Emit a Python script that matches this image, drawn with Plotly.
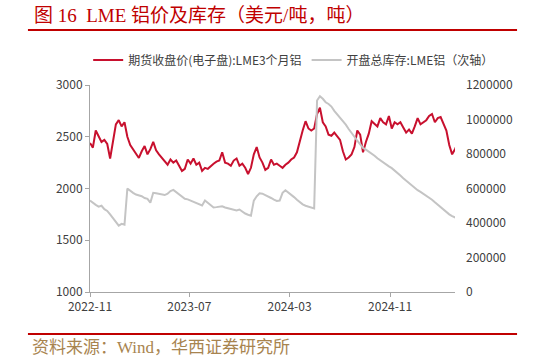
import pandas as pd
import plotly.graph_objects as go

# weekly observation dates
dates = pd.date_range("2022-11-01", periods=129, freq="7D")

# LME 3-month aluminium close (USD/t), left axis
price = [
    2440, 2395, 2560, 2500, 2450, 2470, 2430, 2290, 2440, 2620,
    2660, 2600, 2640, 2500, 2420, 2380, 2340, 2295, 2360, 2410,
    2330, 2380, 2450, 2370, 2330, 2300, 2260, 2230, 2280, 2250,
    2270, 2220, 2170, 2190, 2280, 2240, 2290, 2230, 2250, 2170,
    2200, 2190, 2220, 2240, 2260, 2270, 2350, 2250, 2240, 2220,
    2270, 2290, 2220, 2240, 2200, 2140, 2200, 2330, 2400, 2300,
    2250, 2180, 2200, 2280, 2230, 2240, 2220, 2200, 2230, 2250,
    2280, 2300, 2350, 2460, 2560, 2650, 2580, 2560, 2580, 2720,
    2780, 2640, 2600, 2520, 2510, 2540, 2500, 2470, 2360, 2280,
    2300, 2330, 2400, 2560, 2520, 2350, 2450, 2530, 2650, 2620,
    2600, 2680, 2640, 2620, 2700, 2580, 2640, 2620, 2640, 2590,
    2540, 2570, 2530, 2600, 2680, 2620, 2640, 2660, 2700, 2720,
    2640, 2680, 2690, 2620, 2560, 2420, 2330, 2380, 2440,
]

# LME aluminium opening total stocks (thousand t), right axis
stock_k = [
    530, 515, 505, 495, 500, 480, 470, 450, 430, 410,
    385, 395, 390, 600, 585, 575, 565, 560, 555, 545,
    540, 518, 575, 572, 568, 565, 562, 570, 585, 592,
    580, 565, 555, 540, 537, 530, 522, 515, 510, 502,
    530, 515, 500, 490, 492, 495, 497, 490, 485, 480,
    475, 473, 478, 465, 455, 448, 442, 530, 555, 572,
    570, 562, 555, 545, 535, 528, 530, 575, 590, 578,
    565, 550, 535, 520, 508, 500, 495, 490, 485, 1110,
    1135, 1120, 1100, 1090, 1075, 1050, 1030, 1010, 995, 970,
    945, 925, 900, 877, 855, 835, 825, 815, 805, 790,
    775, 762, 750, 738, 728, 718, 705, 690, 675, 660,
    645, 630, 615, 600, 590, 580, 570, 560, 548, 535,
    520, 505, 490, 475, 462, 450, 440, 432, 425,
]
stock = [v * 1000 for v in stock_k]

x_tick_vals = ["2022-11-01", "2023-07-01", "2024-03-01", "2024-11-01"]
x_tick_text = ["2022-11", "2023-07", "2024-03", "2024-11"]

name_price = "期货收盘价(电子盘):LME3个月铝"
name_stock = "开盘总库存:LME铝（次轴）"
title_text = "图 16  LME 铝价及库存（美元/吨，吨）"
source_text = "资料来源：Wind，华西证券研究所"

RED = "#C8102E"
GRAY = "#C4C4C4"
TXT = "#404040"
SANS = "Noto Sans CJK SC, Microsoft YaHei, sans-serif"
SERIF = "Liberation Serif, Noto Sans CJK SC, serif"

fig = go.Figure()
fig.add_trace(go.Scatter(x=dates, y=stock, name=name_stock, yaxis="y2",
                         mode="lines", line=dict(color=GRAY, width=2),
                         legendrank=2))
fig.add_trace(go.Scatter(x=dates, y=price, name=name_price, yaxis="y",
                         mode="lines", line=dict(color=RED, width=2),
                         legendrank=1))

fig.update_layout(
    width=533, height=361,
    margin=dict(l=90, r=78, t=85, b=69, autoexpand=False),
    paper_bgcolor="white", plot_bgcolor="white",
    font=dict(family=SANS, size=12, color=TXT),
    showlegend=True,
    legend=dict(orientation="h",
                x=-0.005, xanchor="left", y=1.121, yanchor="middle",
                font=dict(size=12, color=TXT),
                itemwidth=30, bgcolor="rgba(0,0,0,0)", traceorder="normal"),
    xaxis=dict(type="date", range=["2022-11-01", "2025-04-08"],
               tickvals=x_tick_vals, ticktext=x_tick_text,
               showgrid=False, zeroline=False,
               showline=True, linecolor="#A6A6A6", linewidth=1,
               ticks="outside", ticklen=4, tickcolor="#A6A6A6",
               tickfont=dict(size=12, color=TXT)),
    yaxis=dict(range=[1000, 3000], dtick=500, tick0=1000,
               showgrid=False, zeroline=False,
               showline=True, linecolor="#A6A6A6", linewidth=1,
               ticks="outside", ticklen=4, tickcolor="#A6A6A6",
               tickfont=dict(size=12, color=TXT)),
    yaxis2=dict(range=[0, 1200000], dtick=200000, tick0=0,
                overlaying="y", side="right", tickformat="d",
                showgrid=False, zeroline=False, showline=False,
                ticks="", ticklabelstandoff=10,
                tickfont=dict(size=12, color=TXT)),
)

# header title and rules (paper coords: x=(px-90)/365, y=(292-py)/207)
fig.add_annotation(text=title_text, xref="paper", yref="paper",
                   x=-0.159, xanchor="left", y=1.338, yanchor="middle",
                   showarrow=False,
                   font=dict(family=SERIF, size=19, color="#C00000"))
fig.add_shape(type="line", xref="paper", yref="paper",
              x0=-0.170, x1=1.170, y0=1.266, y1=1.266,
              line=dict(color="#C00000", width=2))
fig.add_shape(type="line", xref="paper", yref="paper",
              x0=-0.170, x1=1.170, y0=-0.203, y1=-0.203,
              line=dict(color="#C00000", width=2))
fig.add_annotation(text=source_text, xref="paper", yref="paper",
                   x=-0.164, xanchor="left", y=-0.266, yanchor="middle",
                   showarrow=False,
                   font=dict(family=SERIF, size=17, color="#A8844F"))

fig.write_html("out.html",
               config={"displayModeBar": False},
               post_script="document.body.style.margin='0';")
